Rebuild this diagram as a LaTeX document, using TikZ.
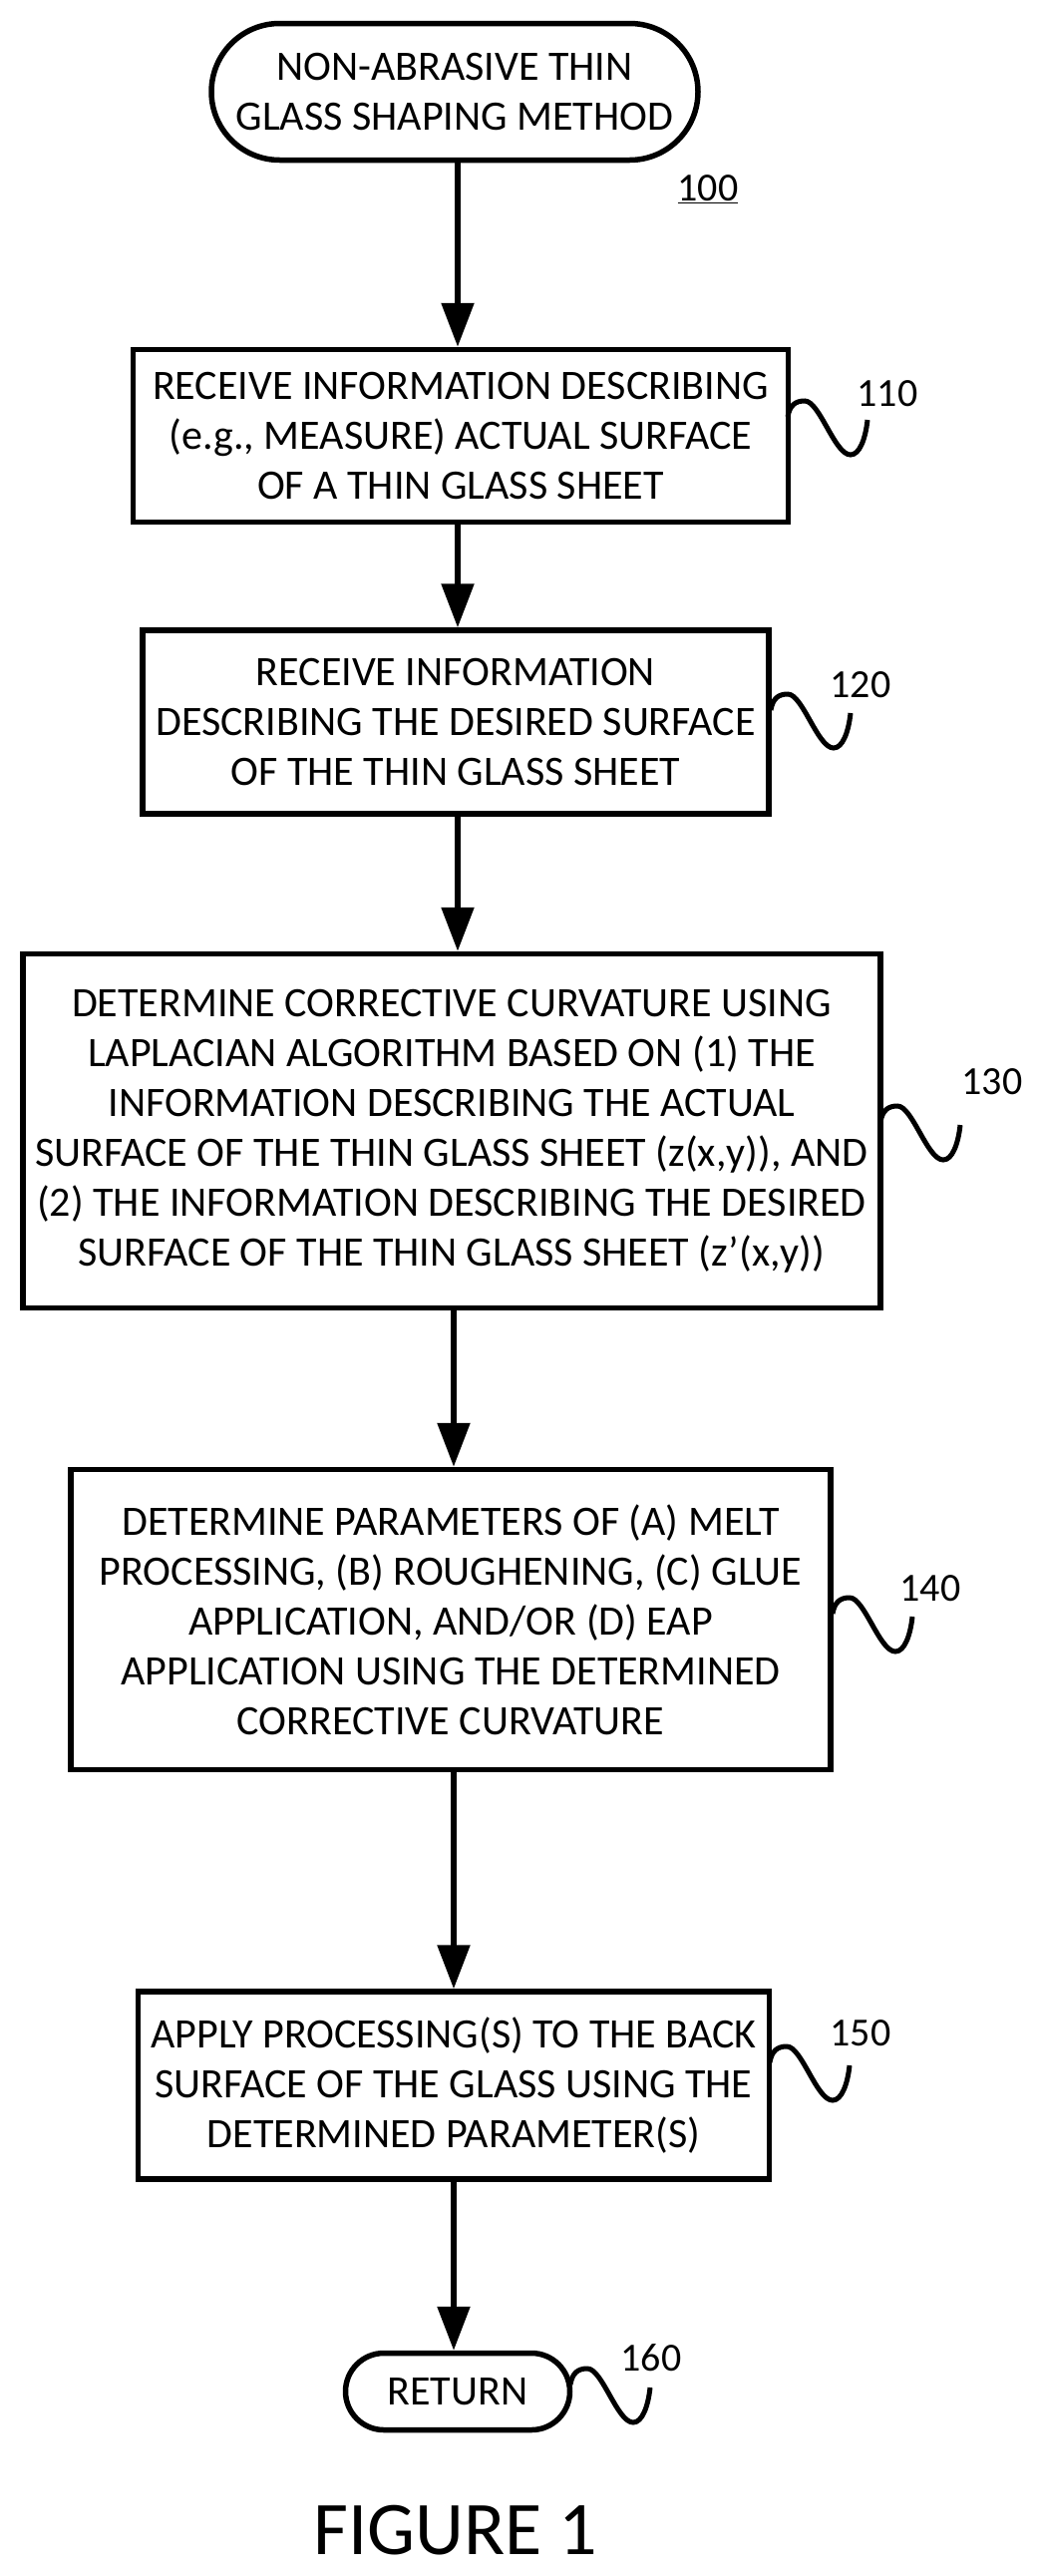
\documentclass[tikz,border=0pt]{standalone}
\usepackage{fontspec}
\setmainfont{Carlito}
\usetikzlibrary{shapes.misc,arrows.meta}
\begin{document}
\begin{tikzpicture}[x=1pt,y=-1pt,
  box/.style={draw,line width=5.5pt,align=center,font=\fontsize{42}{50}\selectfont,inner sep=0pt},
  term/.style={box,rounded rectangle},
  arr/.style={line width=5.5pt,-{Triangle[length=44pt,width=32pt]}},
  wave/.style={line width=5pt},
  lbl/.style={font=\fontsize{40}{44}\selectfont}]
\useasboundingbox (0,0) rectangle (1041,2583);
\node[term,minimum width=488pt,minimum height=137pt] (s) at (456,92) {NON-ABRASIVE THIN\\GLASS SHAPING METHOD};
\node[lbl] (n100) at (710,190) {\underline{100}};
\node[box,minimum width=657pt,minimum height=173pt] (b110) at (462,437) {RECEIVE INFORMATION DESCRIBING\\(e.g., MEASURE) ACTUAL SURFACE\\OF A THIN GLASS SHEET};
\node[box,minimum width=628pt,minimum height=184pt] (b120) at (457,724) {RECEIVE INFORMATION\\DESCRIBING THE DESIRED SURFACE\\OF THE THIN GLASS SHEET};
\node[box,minimum width=860pt,minimum height=355pt] (b130) at (453,1134) {DETERMINE CORRECTIVE CURVATURE USING\\LAPLACIAN ALGORITHM BASED ON (1) THE\\INFORMATION DESCRIBING THE ACTUAL\\SURFACE OF THE THIN GLASS SHEET (z(x,y)), AND\\(2) THE INFORMATION DESCRIBING THE DESIRED\\SURFACE OF THE THIN GLASS SHEET (z'(x,y))};
\node[box,minimum width=762pt,minimum height=301pt] (b140) at (452,1624) {DETERMINE PARAMETERS OF (A) MELT\\PROCESSING, (B) ROUGHENING, (C) GLUE\\APPLICATION, AND/OR (D) EAP\\APPLICATION USING THE DETERMINED\\CORRECTIVE CURVATURE};
\node[box,minimum width=633pt,minimum height=188pt] (b150) at (455,2091) {APPLY PROCESSING(S) TO THE BACK\\SURFACE OF THE GLASS USING THE\\DETERMINED PARAMETER(S)};
\node[term,minimum width=225pt,minimum height=77pt] (r) at (459,2398) {RETURN};
\node[font=\fontsize{76}{88}\selectfont] (fig) at (457,2537) {FIGURE 1};
\coordinate (X) at (459,0);
\coordinate (Y) at (455,0);
\draw[arr] (s.south -| X) -- (b110.north -| X);
\draw[arr] (b110.south -| X) -- (b120.north -| X);
\draw[arr] (b120.south -| X) -- (b130.north -| X);
\draw[arr] (b130.south -| Y) -- (b140.north -| Y);
\draw[arr] (b140.south -| Y) -- (b150.north -| Y);
\draw[arr] (b150.south -| Y) -- (r.north -| Y);
\foreach \sx/\sy/\lx/\ly/\t in {790/418/890/395/110,773/712/863/687/120,883/1125/995/1085/130,835/1618/933/1593/140,772/2068/863/2039/150,572/2391/653/2364/160}{
  \begin{scope}[shift={(\sx,\sy)}]
  \draw[wave] (0,0) .. controls (2,-12) and (8,-16) .. (17,-16) .. controls (32,-16) and (47,38) .. (63,38) .. controls (72,38) and (78,22) .. (80,3);
  \end{scope}
  \node[lbl] at (\lx,\ly) {\t};
}
\end{tikzpicture}
\end{document}
